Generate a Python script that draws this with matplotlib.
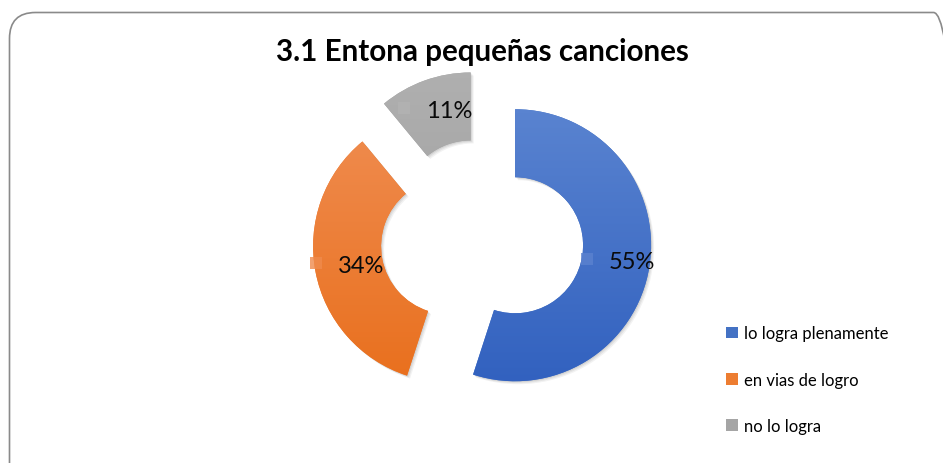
import numpy as np
import matplotlib
matplotlib.use("Agg")
import matplotlib.pyplot as plt
from matplotlib.patches import FancyBboxPatch, Patch, Wedge
from matplotlib.colors import LinearSegmentedColormap

# ---- data ----
categories = ["lo logra plenamente", "en vias de logro", "no lo logra"]
values = [55, 34, 11]
pct_labels = ["55%", "34%", "11%"]
title = "3.1 Entona pequeñas canciones"

# ---- style ----
top_colors = ["#6089d3", "#f1925a", "#b0b0b0"]
bot_colors = ["#2d5dbd", "#e86c17", "#969696"]
mid_colors = ["#4472c4", "#ed7d31", "#a5a5a5"]
sq_colors = ["#5b82cf", "#ef8a4c", "#b3b3b3"]

W, H = 943, 464
fig = plt.figure(figsize=(W / 100, H / 100), dpi=100)
ax = fig.add_axes([0, 0, 1, 1])

R = 136.0
ring = 68.0
cx, cy = 482.0, H - 241.0
explode_px = 33.5

wedges, _ = ax.pie(values, radius=R, center=(cx, cy), startangle=90,
                   counterclock=False, explode=[explode_px] * len(values),
                   colors=mid_colors, wedgeprops=dict(width=ring, linewidth=0))

# soft shadow + gradient fill
for i, w in enumerate(wedges):
    for dx, dy, a in [(3, -3, 0.05), (2, -2, 0.06), (1, -1, 0.07)]:
        sh = Wedge((w.center[0] + dx, w.center[1] + dy), w.r, w.theta1, w.theta2,
                   width=w.width, facecolor="black", alpha=a, linewidth=0, zorder=0.5)
        ax.add_patch(sh)
    w.set_zorder(1)
    cmap = LinearSegmentedColormap.from_list("g%d" % i, [bot_colors[i], top_colors[i]])
    grad = np.linspace(0, 1, 256).reshape(-1, 1)
    y0, y1 = cy - R - 40, cy + R + 40
    im = ax.imshow(grad, cmap=cmap, extent=(cx - R - 60, cx + R + 60, y0, y1),
                   origin="lower", aspect="auto", interpolation="bicubic", zorder=1.1)
    im.set_clip_path(w)

# labels with small legend-key squares
for i, w in enumerate(wedges):
    ang = np.deg2rad((w.theta1 + w.theta2) / 2)
    r_lab = w.r - w.width / 2 + 2
    gx = w.center[0] + r_lab * np.cos(ang)
    gy = w.center[1] + r_lab * np.sin(ang)
    ax.plot(gx - 31, gy + 3, marker="s", markersize=8, color=sq_colors[i],
            markeredgewidth=0, alpha=0.8, zorder=3)
    ax.text(gx + 14, gy, pct_labels[i], ha="center", va="center",
            fontsize=17, family="Lato", color="#0a0a0a", zorder=4)

ax.text(cx, H - 52, title, ha="center", va="center", fontsize=21.3,
        fontweight="bold", family="Lato", color="#000000")

handles = [Patch(facecolor=c, edgecolor="none") for c in mid_colors]
leg = ax.legend(handles, categories, loc="upper left",
                bbox_to_anchor=(718 / W, 1 - 318 / H), frameon=False,
                prop=dict(family="Lato", size=12), handlelength=0.68,
                handleheight=0.68, handletextpad=0.35, labelspacing=1.82,
                borderpad=0)

border = FancyBboxPatch((9.5, -40), 950, H - 13.5 + 40,
                        boxstyle="round,pad=0,rounding_size=26",
                        facecolor="none", edgecolor="#8a8a8a", linewidth=1.2,
                        zorder=5)
ax.add_patch(border)

ax.set_xlim(0, W)
ax.set_ylim(0, H)
ax.set_aspect("auto")
ax.axis("off")
fig.savefig("out.png", dpi=100)
